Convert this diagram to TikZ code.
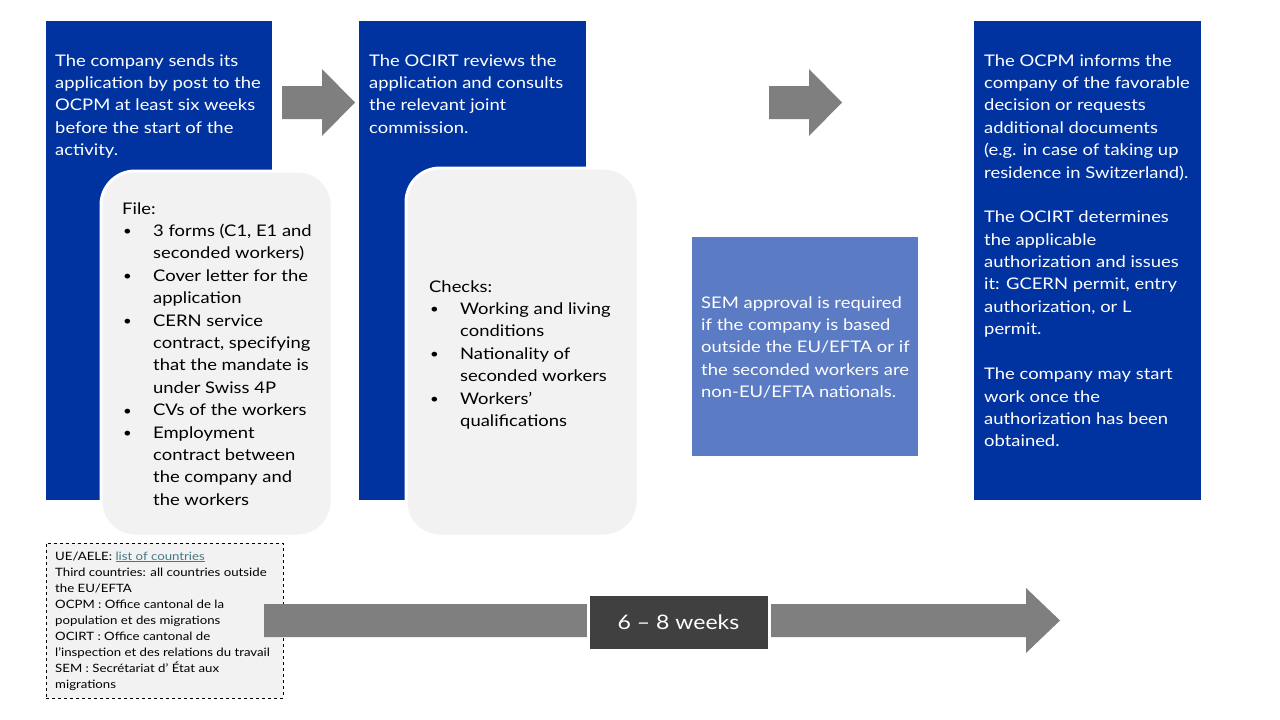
\documentclass[tikz,border=0pt]{standalone}
\usepackage{fontspec}
\setmainfont{Lato}[FakeStretch=1.15]
\definecolor{navy}{RGB}{0,51,160}
\definecolor{semblue}{RGB}{91,124,196}
\definecolor{arrowgray}{RGB}{127,127,127}
\definecolor{panel}{RGB}{242,242,242}
\definecolor{darkbox}{RGB}{64,64,64}
\definecolor{linkcol}{RGB}{70,120,134}
\newcommand\bitem[1]{\hspace*{1pt}\makebox[30pt][l]{\raisebox{0.6pt}{\fontsize{13}{13}\selectfont•}}#1}
\newcommand\bcont[1]{\hspace*{31pt}#1}
\tikzset{
  bluebox/.style={fill=navy, draw=none, anchor=north west, inner sep=0pt, outer sep=0pt},
  panelbox/.style={fill=panel, draw=white, line width=3pt, rounded corners=34pt, anchor=north west, inner sep=0pt, outer sep=0pt},
  semboxstyle/.style={fill=semblue, draw=none, anchor=north west, inner sep=0pt, outer sep=0pt},
  txt/.style={anchor=base west, inner sep=0pt, font=\fontsize{16}{22.4}\selectfont},
  whitetxt/.style={txt, text=white},
  blacktxt/.style={txt, text=black},
  legendbox/.style={fill=panel, draw=black, dashed, line width=0.6pt, anchor=north west, inner sep=0pt, outer sep=0pt},
  graybar/.style={fill=arrowgray, draw=none},
}
\begin{document}
\begin{tikzpicture}[x=1pt,y=-1pt]
\useasboundingbox (0,0) rectangle (1280,720);
\fill[white] (0,0) rectangle (1280,720);

% blue step boxes
\node[bluebox, minimum width=226pt, minimum height=479pt] (b1) at (46,21) {};
\node[bluebox, minimum width=227pt, minimum height=479pt] (b2) at (359,21) {};
\node[bluebox, minimum width=227pt, minimum height=479pt] (b3) at (974,21) {};

% top arrows
\fill[graybar] (282,86) -- (322,86) -- (322,69) -- (355,102.5) -- (322,136) -- (322,119) -- (282,119) -- cycle;
\fill[graybar] (769,86) -- (809,86) -- (809,69) -- (842,102.5) -- (809,136) -- (809,119) -- (769,119) -- cycle;

% rounded panels
\node[panelbox, minimum width=231pt, minimum height=365pt] (p1) at (101,171) {};
\node[panelbox, minimum width=232pt, minimum height=368pt] (p2) at (406,168) {};

% SEM box
\node[semboxstyle, minimum width=226pt, minimum height=219pt] (sem) at (692,237) {};

% legend
\node[legendbox, minimum width=237pt, minimum height=155pt] (leg) at (46,543) {};

% bottom arrow
\fill[graybar] (264,604) -- (1026,604) -- (1026,588) -- (1060,620.5) -- (1026,653) -- (1026,637) -- (264,637) -- cycle;
\node[fill=darkbox, draw=white, line width=3pt, anchor=north west, minimum width=181pt, minimum height=56pt, inner sep=0pt, outer sep=0pt] (weeks) at (588,594) {};
\node[text=white, font=\fontsize{20}{24}\selectfont, inner sep=0pt] (weekstxt) at (weeks.center) {6 – 8 weeks};

% texts
\node[whitetxt] (t1) at (55,66) {\begin{minipage}[t]{225pt}\raggedright
The company sends its\\
application by post to the\\
OCPM at least six weeks\\
before the start of the\\
activity.\end{minipage}};

\node[whitetxt] (t2) at (369,66) {\begin{minipage}[t]{225pt}\raggedright
The OCIRT reviews the\\
application and consults\\
the relevant joint\\
commission.\end{minipage}};

\node[whitetxt] (t3) at (984,66) {\begin{minipage}[t]{225pt}\raggedright
The OCPM informs the\\
company of the favorable\\
decision or requests\\
additional documents\\
(e.g. in case of taking up\\
residence in Switzerland).\\[22.4pt]
The OCIRT determines\\
the applicable\\
authorization and issues\\
it: GCERN permit, entry\\
authorization, or L\\
permit.\\[22.4pt]
The company may start\\
work once the\\
authorization has been\\
obtained.\end{minipage}};

\node[blacktxt] (f1) at (122,214) {\begin{minipage}[t]{225pt}\raggedright
File:\\
\bitem{3 forms (C1, E1 and}\\
\bcont{seconded workers)}\\
\bitem{Cover letter for the}\\
\bcont{application}\\
\bitem{CERN service}\\
\bcont{contract, specifying}\\
\bcont{that the mandate is}\\
\bcont{under Swiss 4P}\\
\bitem{CVs of the workers}\\
\bitem{Employment}\\
\bcont{contract between}\\
\bcont{the company and}\\
\bcont{the workers}\end{minipage}};

\node[blacktxt] (c1) at (429,292) {\begin{minipage}[t]{225pt}\raggedright
Checks:\\
\bitem{Working and living}\\
\bcont{conditions}\\
\bitem{Nationality of}\\
\bcont{seconded workers}\\
\bitem{Workers’}\\
\bcont{qualifications}\end{minipage}};

\node[whitetxt] (s1) at (701,308) {\begin{minipage}[t]{225pt}\raggedright
SEM approval is required\\
if the company is based\\
outside the EU/EFTA or if\\
the seconded workers are\\
non-EU/EFTA nationals.\end{minipage}};

\node[txt, font=\fontsize{11.5}{16}\selectfont] (l1) at (55,560) {\begin{minipage}[t]{230pt}\raggedright
UE/AELE: \textcolor{linkcol}{\underline{list of countries}}\\
Third countries: all countries outside\\
the EU/EFTA\\
OCPM : Office cantonal de la\\
population et des migrations\\
OCIRT : Office cantonal de\\
l’inspection et des relations du travail\\
SEM : Secrétariat d’ État aux\\
migrations\end{minipage}};
\end{tikzpicture}
\end{document}
